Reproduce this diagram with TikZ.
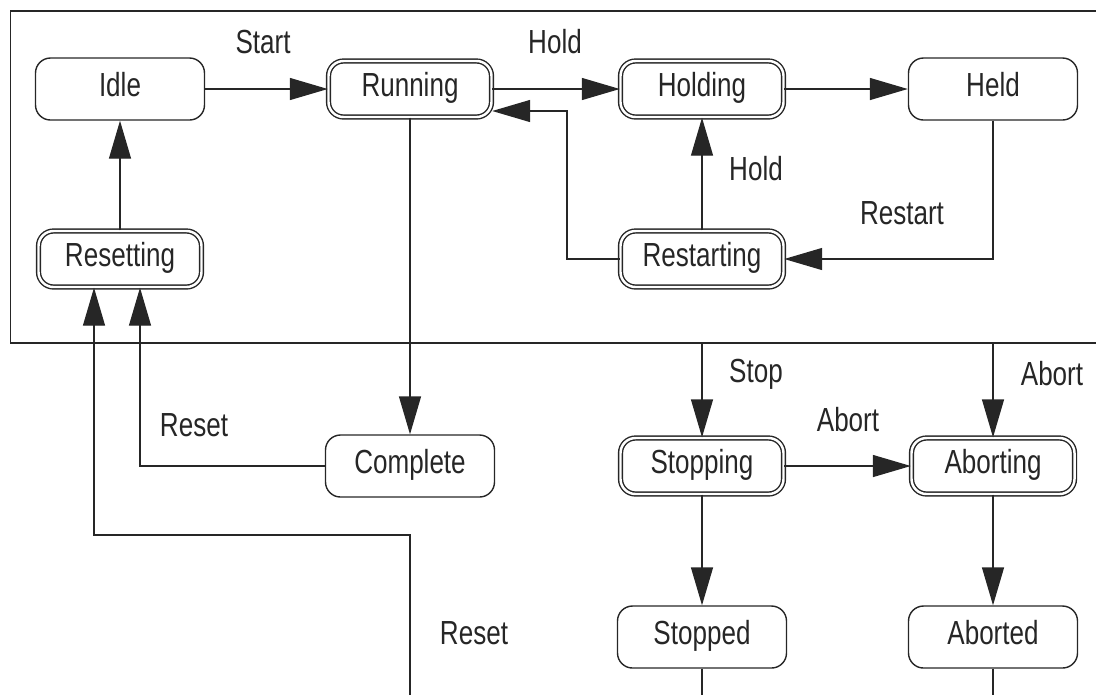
\documentclass[tikz,border=0pt]{standalone}
\usepackage{fontspec}
\setmainfont[FakeStretch=0.78]{Liberation Sans}
\usetikzlibrary{arrows.meta}

\begin{document}
\begin{tikzpicture}[
  >={Triangle[length=0.76cm,width=0.44cm]},
  line width=0.8pt, black!85,
  state/.style={draw, rounded corners=0.3cm, minimum width=3.38cm, minimum height=1.24cm,
    font=\fontsize{19}{22}\selectfont, text=black!85, inner sep=0pt,
    text height=0.46cm, text depth=0.18cm},
  busy/.style={state, double, double distance=1.4pt, minimum width=3.26cm, minimum height=1.12cm},
  lbl/.style={font=\fontsize{19}{22}\selectfont, text=black!85, inner sep=0pt}
]
\useasboundingbox (0,0) rectangle (21.92,-13.9);

% frame round the normal states
\draw (21.92,-0.22) -- (0.21,-0.22) -- (0.21,-6.86) -- (21.92,-6.86);
\coordinate (fb) at (0,-6.86);
\coordinate (pb) at (0,-13.9);

\node[state] (idle) at (2.4,-1.78) {Idle};
\node[busy] (running) at (8.2,-1.78) {Running};
\node[busy] (holding) at (14.04,-1.78) {Holding};
\node[state] (held) at (19.86,-1.78) {Held};
\node[busy] (resetting) at (2.4,-5.18) {Resetting};
\node[busy] (restarting) at (14.04,-5.18) {Restarting};
\node[state] (complete) at (8.2,-9.32) {Complete};
\node[busy] (stopping) at (14.04,-9.32) {Stopping};
\node[busy] (aborting) at (19.86,-9.32) {Aborting};
\node[state] (stopped) at (14.04,-12.74) {Stopped};
\node[state] (aborted) at (19.86,-12.74) {Aborted};

\draw[->] (idle) -- (running);
\draw[->] (running) -- (holding);
\draw[->] (holding) -- (held);
\draw[->] (held) |- (restarting);
\draw[->] (restarting) -- (holding);
\coordinate (back) at (11.34,-2.22);
\draw[->] (restarting) -| (back) -- (back -| running.east);
\draw[->] (resetting) -- (idle);
\draw[->] (running) -- (complete);
\draw[->] (complete) -| ([xshift=0.4cm]resetting.south);
\coordinate (turn) at (8.2,-10.7);
\draw[->] (turn |- pb) -- (turn) -| ([xshift=-0.52cm]resetting.south);
\draw[->] (stopping |- fb) -- (stopping);
\draw[->] (aborting |- fb) -- (aborting);
\draw[->] (stopping) -- (aborting);
\draw[->] (stopping) -- (stopped);
\draw[->] (aborting) -- (aborted);
\draw (stopped) -- (stopped |- pb);
\draw (aborted) -- (aborted |- pb);

\node[lbl] (lstart) at (5.26,-0.84) {Start};
\node[lbl] (lhold) at (11.1,-0.84) {Hold};
\node[lbl] (lhold2) at (15.12,-3.38) {Hold};
\node[lbl] (lrestart) at (18.04,-4.26) {Restart};
\node[lbl] (lreset) at (3.88,-8.5) {Reset};
\node[lbl] (lreset2) at (9.48,-12.66) {Reset};
\node[lbl] (lstop) at (15.12,-7.48) {Stop};
\node[lbl] (labort) at (21.04,-7.48) {Abort};
\node[lbl] (labort2) at (16.96,-8.4) {Abort};
\end{tikzpicture}
\end{document}
